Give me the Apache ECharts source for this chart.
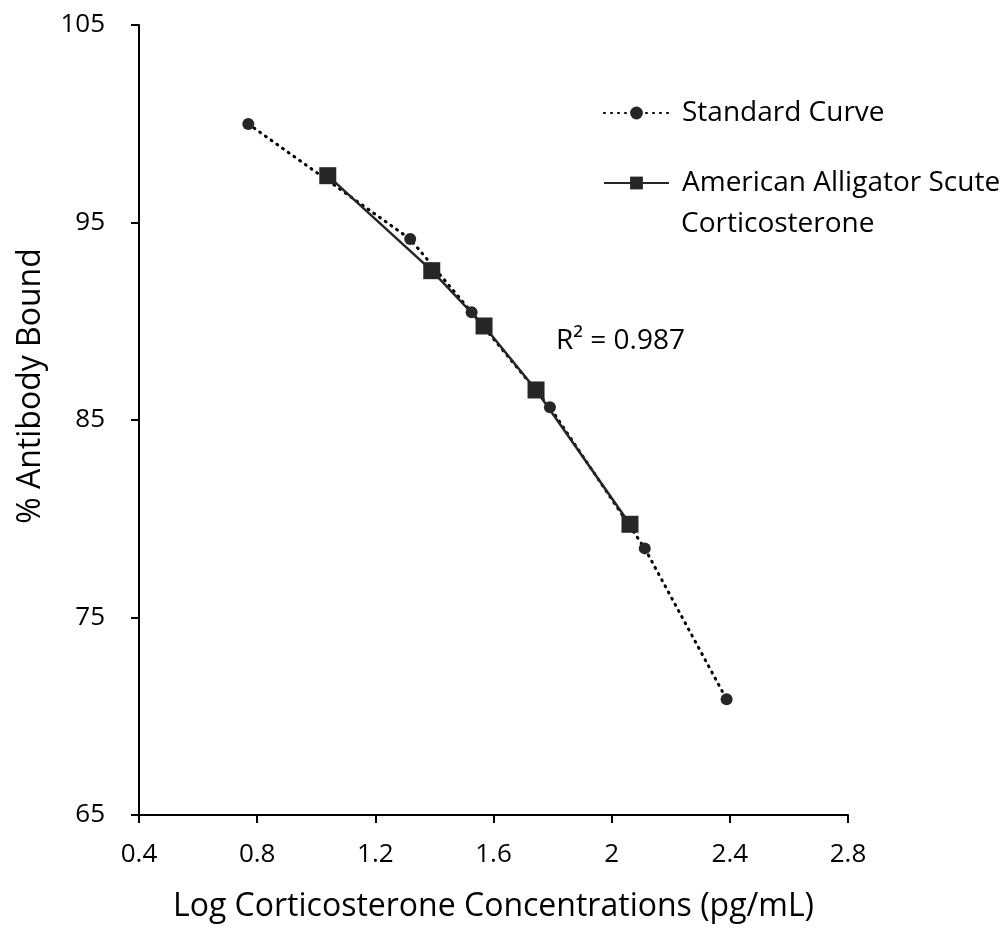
<!DOCTYPE html>
<html>
<head>
<meta charset="utf-8">
<script src="https://cdn.jsdelivr.net/npm/echarts@6/dist/echarts.min.js"></script>
<style>
  html, body { margin: 0; padding: 0; background: #fff; }
  #chart { width: 1007px; height: 928px; }
</style>
</head>
<body>
<div id="chart"></div>
<script>
// standard curve points (log conc, % bound)
const stdX = [0.77, 1.318, 1.526, 1.791, 2.112, 2.389];
const stdY = [99.99, 94.16, 90.45, 85.64, 78.5, 70.86];
// alligator scute samples
const algX = [1.039, 1.391, 1.568, 1.744, 2.062];
const algY = [97.37, 92.56, 89.76, 86.52, 79.72];

const FONT = 'Open Sans';
const INK = '#262626';

const chart = echarts.init(document.getElementById('chart'), null, { renderer: 'canvas' });

const pairs = (xs, ys) => xs.map((x, i) => [x, ys[i]]);

chart.setOption({
    backgroundColor: '#fff',
    animation: false,
    grid: { left: 139, right: 159, top: 25, bottom: 113 },
    xAxis: {
        type: 'value',
        min: 0.4, max: 2.8, interval: 0.4,
        name: 'Log Corticosterone Concentrations (pg/mL)',
        nameLocation: 'middle',
        nameGap: 76,
        nameTextStyle: { fontFamily: FONT, fontSize: 32, color: '#000' },
        axisLine: { lineStyle: { color: '#000', width: 2 } },
        axisTick: { show: true, length: 8, lineStyle: { color: '#000', width: 2 } },
        axisLabel: {
            margin: 27, fontFamily: FONT, fontSize: 26, color: '#000',
            formatter: v => String(Math.round(v * 10) / 10)
        },
        splitLine: { show: false }
    },
    yAxis: {
        type: 'value',
        min: 65, max: 105, interval: 10,
        axisLine: { show: true, lineStyle: { color: '#000', width: 2 } },
        axisTick: { show: true, length: 8, lineStyle: { color: '#000', width: 2 } },
        axisLabel: { margin: 34, fontFamily: FONT, fontSize: 26, color: '#000' },
        splitLine: { show: false }
    },
    legend: {
        orient: 'vertical',
        left: 598, top: 92,
        itemWidth: 65, itemHeight: 16,
        itemGap: 38,
        textStyle: { fontFamily: FONT, fontSize: 28, lineHeight: 32, color: '#000', padding: [0, 0, 0, 8] },
        formatter: name => name === 'American Alligator Scute Corticosterone' ? 'American Alligator Scute' : name,
        data: ['Standard Curve', 'American Alligator Scute Corticosterone']
    },
    graphic: [
        {
            type: 'text', x: 31, y: 386, rotation: Math.PI / 2,
            style: { text: '% Antibody Bound', font: '32px ' + FONT, fill: '#000', align: 'center', verticalAlign: 'middle' }
        },
        {
            type: 'text', x: 681, y: 224,
            style: { text: 'Corticosterone', font: '28px ' + FONT, fill: '#000', verticalAlign: 'middle' }
        },
        {
            type: 'text', x: 556, y: 341,
            style: { text: 'R² = 0.987', font: '28px ' + FONT, fill: '#000', verticalAlign: 'middle' }
        }
    ],
    series: [
        {
            name: 'Standard Curve',
            type: 'line',
            data: pairs(stdX, stdY),
            symbol: 'circle',
            symbolSize: 12,
            itemStyle: { color: INK },
            lineStyle: { color: '#000', width: 3, type: [1, 6], cap: 'round' },
            z: 2
        },
        {
            name: 'American Alligator Scute Corticosterone',
            type: 'line',
            data: pairs(algX, algY),
            symbol: 'rect',
            symbolSize: 17,
            itemStyle: { color: INK },
            lineStyle: { color: INK, width: 2.5 },
            z: 3
        }
    ]
});
</script>
</body>
</html>
